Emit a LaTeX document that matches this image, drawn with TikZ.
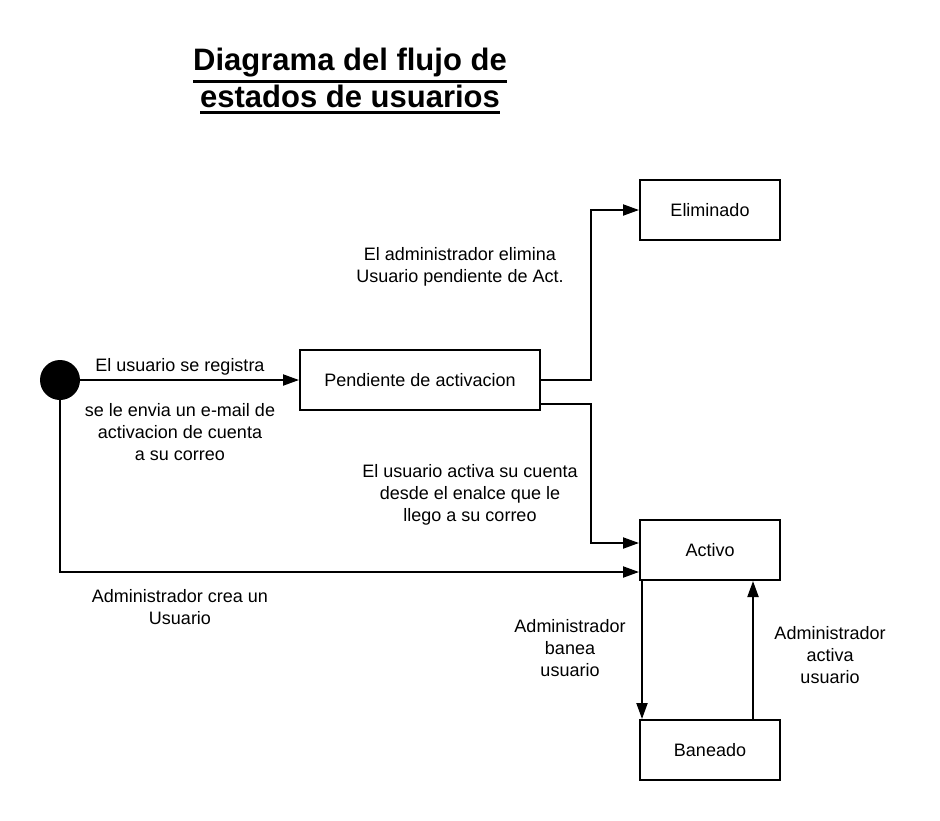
\documentclass[tikz,border=0pt]{standalone}
\usepackage{fontspec}
\setmainfont{Liberation Sans}
\usetikzlibrary{arrows.meta}
\newcommand\subrayado[1]{\leavevmode\vtop{\hbox{#1}\kern1.6pt\hrule height 1.4pt}}
\begin{document}
\begin{tikzpicture}[
    x=0.5pt,y=-0.5pt,
    estado/.style={draw,line width=1pt,minimum height=30pt,inner sep=5pt,font=\fontsize{9}{11}\selectfont},
    etiqueta/.style={align=center,inner sep=0pt,font=\fontsize{9}{11}\selectfont},
    flujo/.style={->,line width=1pt},
    >={Triangle[length=8pt,width=5.5pt]}
]
\useasboundingbox (0,0) rectangle (940,820);
\node[align=center,font=\fontsize{15.5}{18.5}\selectfont\bfseries] (titulo) at (350,81)
    {\subrayado{Diagrama del flujo de}\\\subrayado{estados de usuarios}};

\node[circle,fill=black,minimum size=20pt,inner sep=0pt] (inicio) at (60,380) {};
\node[estado,minimum width=120pt] (pend) at (420,380) {Pendiente de activacion};
\node[estado,minimum width=70pt] (elim) at (710,210) {Eliminado};
\node[estado,minimum width=70pt] (act) at (710,550) {Activo};
\node[estado,minimum width=70pt] (ban) at (710,750) {Baneado};

\draw[flujo] (inicio.east)--(pend.west);
\draw[flujo] (pend.east)--++(25pt,0)|-(elim.west);
\draw[flujo] ([yshift=3.5pt]pend.south east)--++(25pt,0)|-([yshift=3.5pt]act.west);
\draw[flujo] (inicio.south)|-([yshift=-11pt]act.west);
\draw[flujo] ([xshift=1.5pt]act.south west)--([xshift=1.5pt]ban.north west);
\draw[flujo] ([xshift=-14pt]ban.north east)--([xshift=-14pt]act.south east);

\node[etiqueta] (registro) at (180,367) {El usuario se registra};
\node[etiqueta] (correo) at (180,432) {se le envia un e-mail de\\activacion de cuenta\\a su correo};
\node[etiqueta] (elimina) at (460,267) {El administrador elimina\\Usuario pendiente de Act.};
\node[etiqueta] (activa) at (470,495) {El usuario activa su cuenta\\desde el enalce que le\\llego a su correo};
\node[etiqueta] (crea) at (180,607) {Administrador crea un\\Usuario};
\node[etiqueta] (banea) at (570,648) {Administrador\\banea\\usuario};
\node[etiqueta] (reactiva) at (830,655) {Administrador\\activa\\usuario};
\end{tikzpicture}
\end{document}
